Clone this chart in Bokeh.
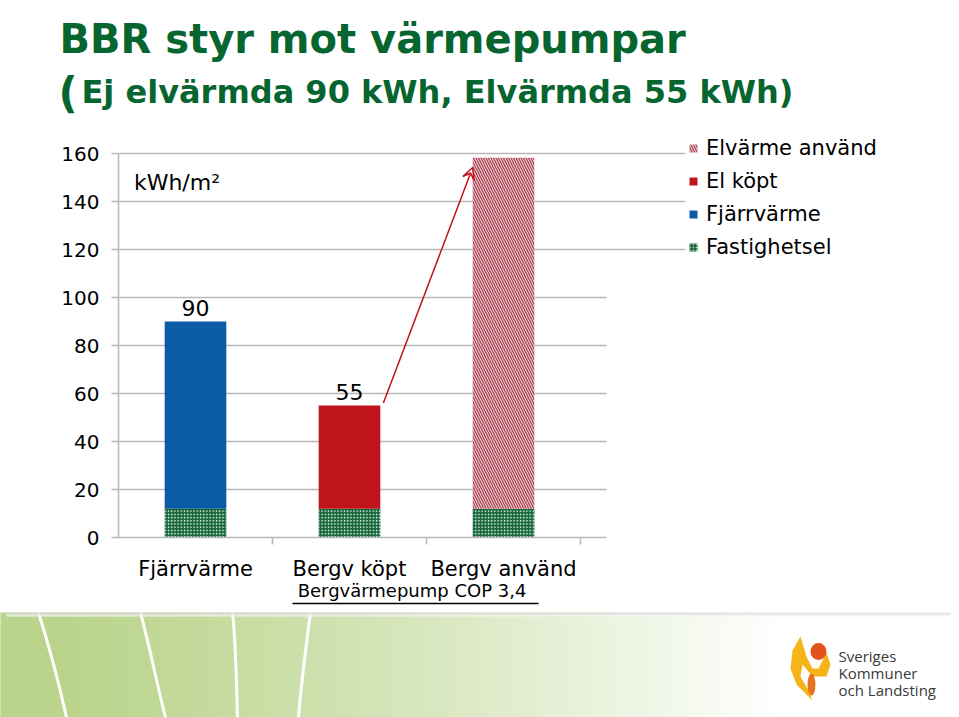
from bokeh.plotting import figure
from bokeh.models import (Range1d, FixedTicker, Legend, LegendItem, LabelSet, Label,
                          Arrow, VeeHead, ColumnDataSource, LinearAxis)
from bokeh.core.properties import value
from bokeh.embed import file_html
from bokeh.resources import INLINE

# ---------------- data ----------------
categories = ["Fjärrvärme", "Bergv köpt", "Bergv använd"]
fastighetsel = [12, 12, 12]
fjarrvarme = [78, 0, 0]
el_kopt = [0, 43, 0]
elvarme_anvand = [0, 0, 146.2]
bar_value_labels = ["90", "55"]
y_ticks = [0, 20, 40, 60, 80, 100, 120, 140, 160]
unit_label = "kWh/m²"
cop_label = "Bergvärmepump COP 3,4"
title_1 = "BBR styr mot värmepumpar"
title_2_paren = "("
title_2 = "Ej elvärmda 90 kWh, Elvärmda 55 kWh)"

# ---------------- style ----------------
FONT = "DejaVu Sans"
GREEN_T = "#07652f"
C_BLUE = "#0b5ba6"
C_RED = "#c0141c"
C_HATCH = "#b24a5a"
C_GREEN = "#15673a"
GRID = "#b9b9b9"

HEADER_H = 125

# ---------------- header (titles) ----------------
h = figure(width=959, height=HEADER_H, output_backend="svg", toolbar_location=None,
           x_range=Range1d(0, 959), y_range=Range1d(HEADER_H, 0), min_border=0,
           title_location=None)
h.axis.visible = False
h.grid.visible = False
h.outline_line_color = None
h.background_fill_color = "white"
h.border_fill_color = "white"
h.text(x=[59], y=[38], text=[title_1], text_font=value(FONT), text_font_style="bold",
       text_font_size="40px", text_color=GREEN_T, text_baseline="middle")
h.text(x=[58], y=[93], text=[title_2_paren], text_font=value(FONT), text_font_style="bold",
       text_font_size="42px", text_color=GREEN_T, text_baseline="middle")
h.text(x=[81], y=[91], text=[title_2], text_font=value(FONT), text_font_style="bold",
       text_font_size="32px", text_color=GREEN_T, text_baseline="middle")

# ---------------- main chart ----------------
xs = [i + 0.5 for i in range(len(categories))]
W = 0.4

p = figure(width=959, height=612 - HEADER_H, output_backend="svg", toolbar_location=None,
           title_location=None,
           x_range=Range1d(0, 5.37), y_range=Range1d(0, 171.67),
           min_border_left=118, min_border_right=14, min_border_top=0, min_border_bottom=75)
p.outline_line_color = None
p.background_fill_color = "white"
p.border_fill_color = "white"
p.xgrid.visible = False
p.ygrid.visible = False

# gridlines (upper ones run further right, toward the legend)
g_ticks = y_ticks[1:]
g_right = [3.17 if t <= 100 else 3.68 for t in g_ticks]
p.segment(x0=[0] * len(g_ticks), y0=g_ticks, x1=g_right, y1=g_ticks,
          line_color=GRID, line_width=1.6)

# stacked bars
b0 = [0] * 3
b1 = [a + b for a, b in zip(b0, fastighetsel)]
b2 = [a + b for a, b in zip(b1, fjarrvarme)]
b3 = [a + b for a, b in zip(b2, el_kopt)]
b4 = [a + b for a, b in zip(b3, elvarme_anvand)]

r_fast = p.vbar(x=xs, width=W, bottom=b0, top=b1, fill_color=C_GREEN, line_color=None,
                hatch_pattern="dot", hatch_color="white", hatch_scale=3.2, hatch_weight=1.3)
r_fj = p.vbar(x=xs, width=W, bottom=b1, top=b2, fill_color=C_BLUE, line_color=None)
r_el = p.vbar(x=xs, width=W, bottom=b2, top=b3, fill_color=C_RED, line_color=None)
r_ev = p.vbar(x=xs, width=W, bottom=b3, top=b4, fill_color="white", line_color=None,
              hatch_pattern="left_diagonal_line", hatch_color=C_HATCH, hatch_scale=5,
              hatch_weight=1.6)

# value labels over the first two bars
lab_src = ColumnDataSource(dict(x=xs[:2], y=b3[:2], t=bar_value_labels))
p.add_layout(LabelSet(x="x", y="y", text="t", source=lab_src, text_align="center",
                      text_baseline="bottom", y_offset=6, text_font=value(FONT),
                      text_font_size="22px", text_color="black"))

# unit label
p.add_layout(Label(x=0.1, y=148, text=unit_label, text_font=FONT, text_font_size="22px",
                   text_baseline="middle", text_color="black"))

# arrow from "Bergv köpt" top to "Bergv använd" top
p.add_layout(Arrow(end=VeeHead(size=12, line_color=C_RED, line_width=1.5, fill_color=None),
                   x_start=xs[1] + W / 2 + 0.02, y_start=b3[1] + 1,
                   x_end=xs[2] - W / 2, y_end=b4[2] - 4,
                   line_color=C_RED, line_width=1.5))

# y axis
p.yaxis.ticker = FixedTicker(ticks=y_ticks)
p.yaxis.bounds = (0, 160)
p.yaxis.axis_line_color = GRID
p.yaxis.axis_line_width = 1.6
p.yaxis.major_tick_line_color = GRID
p.yaxis.major_tick_line_width = 1.6
p.yaxis.major_tick_in = 0
p.yaxis.major_tick_out = 7
p.yaxis.minor_tick_line_color = None
p.yaxis.major_label_standoff = 12
p.yaxis.major_label_text_font = FONT
p.yaxis.major_label_text_font_size = "20px"
p.yaxis.major_label_text_color = "black"

# x axis (categories)
p.xaxis.ticker = FixedTicker(ticks=xs, minor_ticks=[1, 2, 3])
p.xaxis.bounds = (0, 3.17)
p.xaxis.major_label_overrides = {x: c for x, c in zip(xs, categories)}
p.xaxis.axis_line_color = GRID
p.xaxis.axis_line_width = 1.6
p.xaxis.major_tick_line_color = None
p.xaxis.major_tick_out = 0
p.xaxis.minor_tick_line_color = GRID
p.xaxis.minor_tick_line_width = 1.6
p.xaxis.minor_tick_in = 0
p.xaxis.minor_tick_out = 7
p.xaxis.major_label_standoff = 12
p.xaxis.major_label_text_font = FONT
p.xaxis.major_label_text_font_size = "21px"
p.xaxis.major_label_text_color = "black"

# COP note as a second, label-only axis, and an underline axis below it
cop_x = 1.906
cop_axis = LinearAxis(ticker=FixedTicker(ticks=[cop_x]), bounds=(0, 3.17),
                      major_label_overrides={cop_x: cop_label},
                      axis_line_color=None, major_tick_line_color=None, major_tick_out=0,
                      minor_tick_line_color=None, minor_tick_out=0, major_label_standoff=-4,
                      major_label_text_font=FONT, major_label_text_font_size="18px",
                      major_label_text_color="black")
p.add_layout(cop_axis, "below")
under_axis = LinearAxis(ticker=FixedTicker(ticks=[]), bounds=(1.13, 2.73),
                        axis_line_color="black", axis_line_width=1.3,
                        major_tick_line_color=None, major_tick_out=0,
                        minor_tick_line_color=None, minor_tick_out=0,
                        major_label_text_font_size="1px")
p.add_layout(under_axis, "below")

# legend
items = [LegendItem(label="Elvärme använd", renderers=[r_ev]),
         LegendItem(label="El köpt", renderers=[r_el]),
         LegendItem(label="Fjärrvärme", renderers=[r_fj]),
         LegendItem(label="Fastighetsel", renderers=[r_fast])]
leg = Legend(items=items, location=(570, 278), padding=0, margin=0, spacing=9,
             glyph_width=10, glyph_height=10, label_height=24, label_standoff=8,
             label_text_font=FONT, label_text_font_size="21px", label_text_color="black",
             border_line_color=None, background_fill_alpha=0)
p.add_layout(leg)

# ---------------- decorative footer ----------------
q = figure(width=959, height=105, output_backend="svg", toolbar_location=None,
           title_location=None,
           x_range=Range1d(0, 959), y_range=Range1d(717, 612), min_border=0)
q.axis.visible = False
q.grid.visible = False
q.outline_line_color = None
q.background_fill_color = "white"
q.border_fill_color = "white"


def mix(c1, c2, t):
    return "#%02x%02x%02x" % tuple(int(round(a + (b - a) * t)) for a, b in zip(c1, c2))


left_c, right_c = (186, 212, 140), (255, 255, 255)
strip_l, strip_r, strip_c = [], [], []
for i in range(0, 960, 6):
    t = min(1.0, max(0.0, (i - 60) / 720.0)) ** 1.2
    strip_l.append(i)
    strip_r.append(i + 7)
    strip_c.append(mix(left_c, right_c, t))
q.quad(left=strip_l, right=strip_r, bottom=717, top=612, fill_color=strip_c,
       line_color=strip_c, line_width=1)

# white curves
for x0, cx0, cx1, x1 in [(38, 50, 60, 66), (140, 150, 158, 165), (232, 236, 236, 237),
                         (310, 305, 300, 298)]:
    q.bezier(x0=x0, y0=612, x1=x1, y1=717, cx0=cx0, cy0=650, cx1=cx1, cy1=690,
             line_color="white", line_width=3)

# panel bottom shadow
q.quad(left=0, right=959, bottom=612, top=606, fill_color="white", line_color=None)
for k, col in enumerate(["#cfcfcf", "#dedede", "#ebebeb", "#f4f4f4"]):
    q.segment(x0=6, y0=612.5 + k, x1=950, y1=612.5 + k, line_color=col, line_width=1)

# logo
q.patch(x=[800, 792, 790, 796, 806, 812, 808, 800, 802, 812, 826, 830, 826, 818, 812, 806, 800],
        y=[636, 650, 668, 684, 694, 700, 690, 676, 664, 676, 676, 664, 652, 668, 668, 656, 636],
        fill_color="#f5b41a", line_color=None)
q.ellipse(x=[818], y=[651], width=16, height=17, fill_color="#e2531c", line_color=None)
q.ellipse(x=[811], y=[684], width=8, height=22, fill_color="#e8731c", line_color=None)
q.text(x=[838, 838, 838], y=[655, 672, 689], text=["Sveriges", "Kommuner", "och Landsting"],
       text_font_size="15px", text_color="#3a3a3a", text_baseline="middle",
       text_font=value("Open Sans"))

open("out.html", "w").write(file_html([h, p, q], INLINE))
